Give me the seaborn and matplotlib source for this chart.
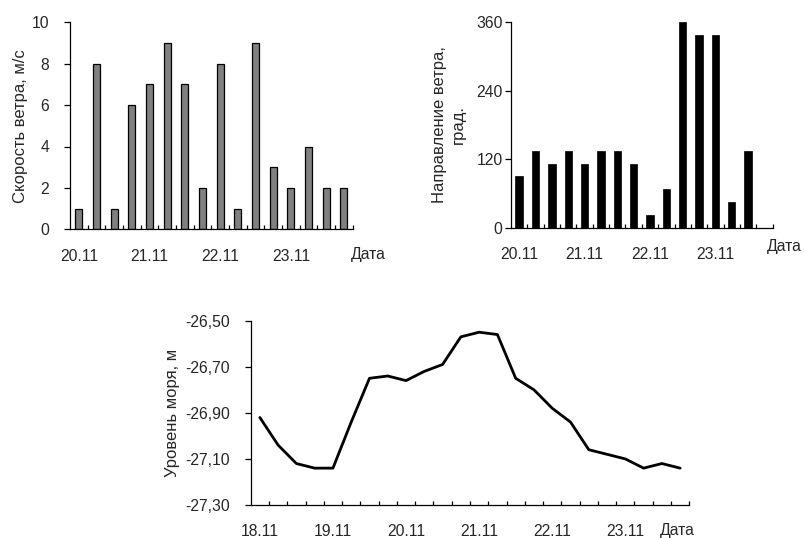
import numpy as np
import pandas as pd
import matplotlib
matplotlib.use("Agg")
import matplotlib.pyplot as plt
from matplotlib.ticker import FixedLocator, FuncFormatter
import seaborn as sns

# Wind speed, 6-hourly, 20.11 - 23.11
speed_days = ["20.11", "21.11", "22.11", "23.11"]
wind_speed = [1, 8, 1, 6, 7, 9, 7, 2, 8, 1, 9, 3, 2, 4, 2, 2]

# Wind direction, 6-hourly (last slot without observation)
dir_days = ["20.11", "21.11", "22.11", "23.11"]
wind_dir = [90, 135, 112.5, 135, 112.5, 135, 135, 112.5, 22.5, 67.5,
            360, 337.5, 337.5, 45, 135]
dir_slots = 16

# Sea level, 6-hourly, 18.11 - 23.11
level_days = ["18.11", "19.11", "20.11", "21.11", "22.11", "23.11"]
sea_level = [-26.92, -27.04, -27.12, -27.14, -27.14, -26.94, -26.75, -26.74,
             -26.76, -26.72, -26.69, -26.57, -26.55, -26.56, -26.75, -26.80,
             -26.88, -26.94, -27.06, -27.08, -27.10, -27.14, -27.12, -27.14]

sns.set_style("ticks")
plt.rcParams["font.family"] = ["Liberation Sans", "DejaVu Sans"]
plt.rcParams["font.size"] = 11

TICK_FS = 11.3
LABEL_FS = 12

W, H = 805, 538
fig = plt.figure(figsize=(W / 100, H / 100), dpi=100)


def px_axes(left, top, right, bottom):
    return fig.add_axes([left / W, 1 - bottom / H, (right - left) / W, (bottom - top) / H])


def slot_labels(days, n):
    return [f"{days[i // 4]} {6 * (i % 4):02d}h" if i // 4 < len(days) else f"x{i}" for i in range(n)]


def style_axis(ax, n, days, ypad):
    sns.despine(ax=ax)
    for s in ("left", "bottom"):
        ax.spines[s].set_linewidth(0.9)
        ax.spines[s].set_color("black")
    ax.set_xlim(-0.5, n - 0.5)
    ax.set_xticks(range(0, 4 * len(days), 4))
    ax.set_xticklabels(days)
    ax.xaxis.set_minor_locator(FixedLocator(np.arange(0.5, n, 1.0)))
    ax.tick_params(axis="x", which="major", length=0, pad=14, labelsize=TICK_FS)
    ax.tick_params(axis="x", which="minor", direction="in", length=3, width=0.9, color="black")
    ax.tick_params(axis="y", which="major", direction="out", length=4, width=0.9,
                   color="black", pad=ypad, labelsize=TICK_FS)
    ax.set_xlabel("")


# --- wind speed ---
ax1 = px_axes(70, 22.3, 352.7, 229.3)
slots1 = slot_labels(speed_days, len(wind_speed))
df1 = pd.DataFrame({"slot": slots1, "v": wind_speed})
sns.barplot(data=df1, x="slot", y="v", order=slots1, color="#808080",
            saturation=1, width=0.4, edgecolor="black", linewidth=0.9, ax=ax1)
style_axis(ax1, len(wind_speed), speed_days, 11)
ax1.set_ylim(0, 10)
ax1.set_yticks(range(0, 11, 2))
ax1.set_ylabel("Скорость ветра, м/с", fontsize=LABEL_FS, va="center", ha="center")
ax1.yaxis.set_label_coords((20 - 70) / 282.7, 0.5)
fig.text(368 / W, 1 - 255 / H, "Дата", ha="center", va="center", fontsize=TICK_FS)

# --- wind direction ---
ax2 = px_axes(511, 22.3, 772.7, 227.7)
slots2 = slot_labels(dir_days, dir_slots)
df2 = pd.DataFrame({"slot": slots2[:len(wind_dir)], "v": wind_dir})
sns.barplot(data=df2, x="slot", y="v", order=slots2, color="black",
            saturation=1, width=0.45, edgecolor="black", linewidth=0.5, ax=ax2)
style_axis(ax2, dir_slots, dir_days, 2)
ax2.set_ylim(0, 360)
ax2.set_yticks([0, 120, 240, 360])
ax2.set_ylabel("Направление ветра,\nград.", fontsize=LABEL_FS, va="center", ha="center",
               linespacing=1.3)
ax2.yaxis.set_label_coords((449 - 511) / 261.7, 0.5)
fig.text(784 / W, 1 - 246 / H, "Дата", ha="center", va="center", fontsize=TICK_FS)

# --- sea level ---
ax3 = px_axes(250.7, 320.7, 689.3, 505)
df3 = pd.DataFrame({"slot": np.arange(len(sea_level)), "v": sea_level})
sns.lineplot(data=df3, x="slot", y="v", color="black", linewidth=2.0, ax=ax3)
style_axis(ax3, len(sea_level), level_days, 11)
ax3.set_ylim(-27.30, -26.50)
ax3.set_yticks([-27.30, -27.10, -26.90, -26.70, -26.50])
ax3.yaxis.set_major_formatter(FuncFormatter(lambda v, _: f"{v:.2f}".replace(".", ",")))
ax3.set_ylabel("Уровень моря, м", fontsize=LABEL_FS, va="center", ha="center")
ax3.yaxis.set_label_coords((172 - 250.7) / 438.6, 0.5)
fig.text(677 / W, 1 - 530 / H, "Дата", ha="center", va="center", fontsize=TICK_FS)

fig.savefig("out.png", dpi=100, facecolor="white")
